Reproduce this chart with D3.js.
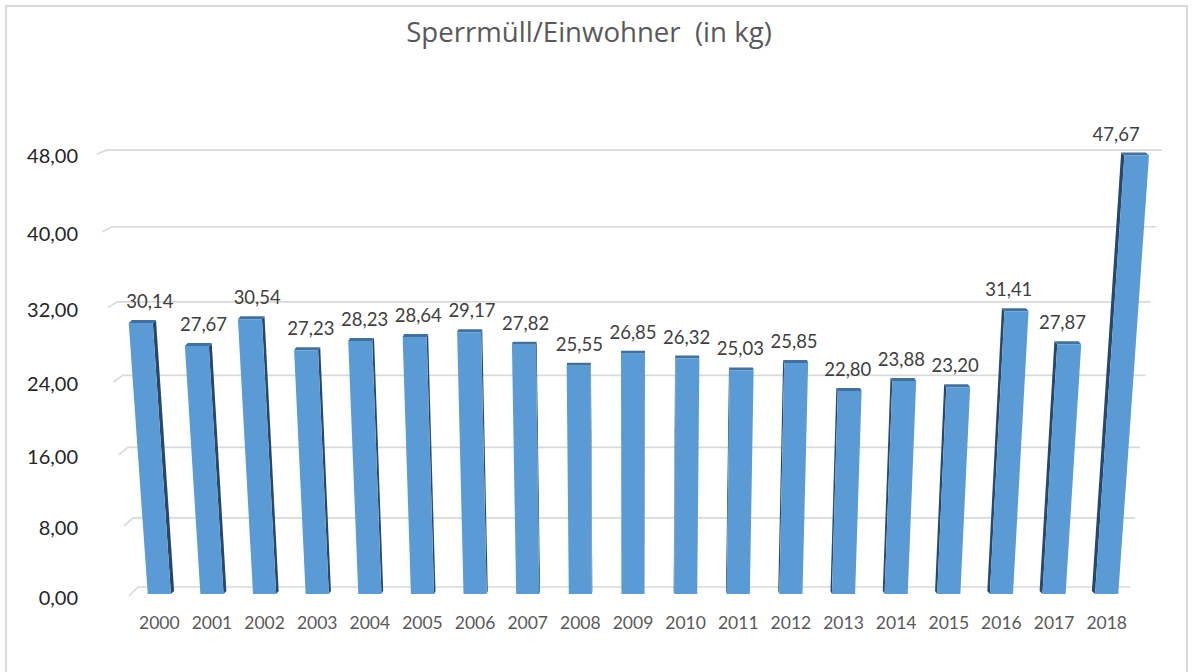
<!DOCTYPE html>
<html>
<head>
<meta charset="utf-8">
<script src="https://cdn.jsdelivr.net/npm/d3@7"></script>
<style>
  body { margin: 0; background: #fff; }
  text { font-family: Lato, "Noto Sans", sans-serif; }
</style>
</head>
<body>
<div id="chart"></div>
<script>
// data
var years = ["2000","2001","2002","2003","2004","2005","2006","2007","2008","2009",
             "2010","2011","2012","2013","2014","2015","2016","2017","2018"];
var values = [30.14, 27.67, 30.54, 27.23, 28.23, 28.64, 29.17, 27.82, 25.55, 26.85,
              26.32, 25.03, 25.85, 22.80, 23.88, 23.20, 31.41, 27.87, 47.67];
var yTicks = [0, 8, 16, 24, 32, 40, 48];

var width = 1194, height = 672;
var cx = 633;          // horizontal centre of the perspective
var k = 0.00125;       // perspective strength per unit of value
var floorFront = 594, floorWall = 587;

var de = d3.formatLocale({decimal: ",", thousands: ".", grouping: [3], currency: ["", "€"]});
var fmt = de.format(".2f");

var svg = d3.select("#chart").append("svg")
    .attr("width", width)
    .attr("height", height);

// chart border
svg.append("rect")
    .attr("x", 6).attr("y", 6)
    .attr("width", 1181).attr("height", 680)
    .attr("fill", "none")
    .attr("stroke", "#d9d9d9")
    .attr("stroke-width", 2);

// x scale on the floor, value scale before perspective
var x = d3.scaleBand()
    .domain(years)
    .range([133, 1133])
    .paddingInner(0.56)
    .paddingOuter(0.28);

var y = d3.scaleLinear()
    .domain([0, 48])
    .range([0, 8.65 * 48]);

function s(v) { return 1 / (1 - k * v); }
function px(x0, v) { return cx + (x0 - cx) * s(v); }
function pyFront(v) { return floorFront - y(v) * s(v); }
function pyWall(v) { return floorWall - 0.989 * y(v) * s(v); }

// gridlines on the back wall, with the short side-wall edge at the left
var grid = svg.append("g");
yTicks.forEach(function(t) {
    var xl = px(138, t), xr = px(1130, t);
    var xf = px(129, t), yf = pyFront(t) + 2;
    grid.append("path")
        .attr("d", "M" + xf + "," + yf + "L" + xl + "," + pyWall(t) + "L" + xr + "," + pyWall(t))
        .attr("fill", "none")
        .attr("stroke", "#d9d9d9")
        .attr("stroke-width", 1.6);
    grid.append("text")
        .attr("x", 78)
        .attr("y", yf + 2)
        .attr("dy", "0.35em")
        .attr("text-anchor", "end")
        .attr("font-size", 20)
        .attr("fill", "#262626")
        .text(fmt(t));
});

// bars as perspective boxes
var bars = svg.append("g");
years.forEach(function(yr, i) {
    var v = values[i];
    var x0 = x(yr), x1 = x(yr) + x.bandwidth();
    var xm = (x0 + x1) / 2;
    var dir = xm < cx ? 1 : -1;
    var w = Math.abs(xm - cx) * 0.0068;
    var dy = 3;
    var yb = floorFront, yt = pyFront(v);
    var tl = [px(x0, v), yt], tr = [px(x1, v), yt];
    var bl = [x0, yb], br = [x1, yb];

    // inner side face
    var e = dir > 0 ? [br, tr] : [bl, tl];
    var side = [e[0], e[1], [e[1][0] + dir * w, e[1][1] - dy], [e[0][0] + dir * w, e[0][1] - dy]];
    bars.append("path")
        .attr("d", d3.line()(side) + "Z")
        .attr("fill", "#28476a");

    // top face
    var top = [tl, tr, [tr[0] + dir * w, tr[1] - dy], [tl[0] + dir * w, tl[1] - dy]];
    bars.append("path")
        .attr("d", d3.line()(top) + "Z")
        .attr("fill", "#41719c");

    // front face
    bars.append("path")
        .attr("d", d3.line()([bl, tl, tr, br]) + "Z")
        .attr("fill", "#5b9bd5");

    // value label
    bars.append("text")
        .attr("x", cx + (xm - cx) * 1.02)
        .attr("y", yt - 15)
        .attr("text-anchor", "middle")
        .attr("font-size", 18.5)
        .attr("fill", "#404040")
        .text(fmt(v));

    // year label
    bars.append("text")
        .attr("x", xm)
        .attr("y", 629)
        .attr("text-anchor", "middle")
        .attr("font-size", 17.5)
        .attr("fill", "#595959")
        .text(yr);
});

// title
svg.append("text")
    .attr("x", 589)
    .attr("y", 42)
    .attr("text-anchor", "middle")
    .attr("font-size", 27.6)
    .attr("fill", "#595959")
    .attr("xml:space", "preserve")
    .style("font-family", "'Open Sans', Lato, sans-serif")
    .style("white-space", "pre")
    .text("Sperrmüll/Einwohner  (in kg)");
</script>
</body>
</html>
